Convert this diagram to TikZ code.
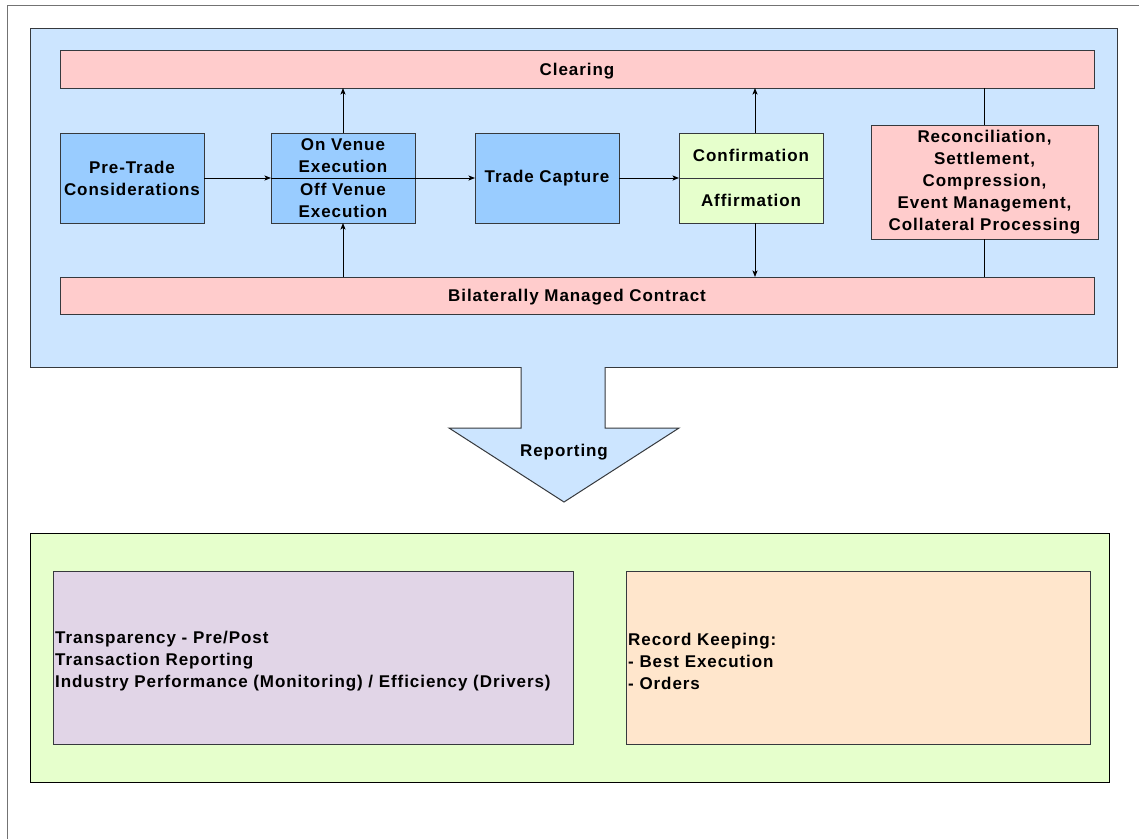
\documentclass[tikz,border=0pt]{standalone}
\usepackage{fontspec}
\setmainfont{Liberation Sans}[LetterSpace=5.5]
\usetikzlibrary{arrows.meta}

\definecolor{edge}{HTML}{36393D}
\definecolor{paleblue}{HTML}{CCE5FF}
\definecolor{midblue}{HTML}{99CCFF}
\definecolor{palepink}{HTML}{FFCCCC}
\definecolor{palegreen}{HTML}{E6FFCC}
\definecolor{lilac}{HTML}{E1D5E7}
\definecolor{peach}{HTML}{FFE6CC}

\tikzset{
  lbl/.style={font=\bfseries\fontsize{17}{22}\selectfont},
  panel/.style={draw=edge, line width=1pt, inner sep=0pt, outer sep=0pt},
  bar/.style={panel, fill=palepink, minimum width=1034pt},
  barlabel/.style={label={[lbl, yshift=-2pt]center:#1}},
  stepbox/.style={panel, fill=midblue, lbl, align=center, minimum width=144pt, minimum height=90pt},
  halfbox/.style={panel, lbl, align=center, minimum width=144pt, minimum height=45pt},
  link/.style={draw=black, line width=0.9pt},
  arr/.style={link, -{Stealth[length=6.5pt,width=5pt,inset=1.5pt]}},
}

\begin{document}
\begin{tikzpicture}[x=1pt,y=-1pt]
\useasboundingbox (0,0) rectangle (1139,839);
\fill[white] (0,0) rectangle (1139,839);

% page frame
\draw[black!55, line width=1pt] (1139,5) -- (7,5) -- (7,839);

% upper process area
\node[panel, fill=paleblue, minimum width=1087pt, minimum height=339pt] (proc) at (573.5,197.5) {};
\node[bar, minimum height=38pt, barlabel=Clearing] (clr) at (577,69) {};
\node[bar, minimum height=37pt, barlabel=Bilaterally Managed Contract] (bmc) at (577,295.5) {};

\node[stepbox] (pre) at (132,178) {Pre-Trade\\Considerations};
\node[halfbox, fill=midblue] (onv) at (343,155.5) {On Venue\\Execution};
\node[halfbox, fill=midblue] (offv) at (343,200.5) {Off Venue\\Execution};
\node[stepbox] (tc) at (547,178) {Trade Capture};
\node[halfbox, fill=palegreen] (conf) at (751,155.5) {Confirmation};
\node[halfbox, fill=palegreen] (aff) at (751,200.5) {Affirmation};
\node[panel, fill=palepink, lbl, align=center, minimum width=227pt, minimum height=114pt] (rec) at (984.5,182)
  {Reconciliation,\\Settlement,\\Compression,\\Event Management,\\Collateral Processing};

% flow connectors
\draw[arr] (pre.east) -- (pre.east -| onv.west);
\draw[arr] (onv.south east) -- (tc.west);
\draw[link] (onv.south west) -- (onv.south east);
\draw[arr] (tc.east) -- (conf.south west);
\draw[arr] (onv.north) -- (onv.north |- clr.south);
\draw[arr] (offv.south |- bmc.north) -- (offv.south);
\draw[arr] ([xshift=4pt]conf.north) -- ([xshift=4pt]conf.north |- clr.south);
\draw[arr] ([xshift=4pt]aff.south) -- ([xshift=4pt]aff.south |- bmc.north);
\draw[link] (rec.north) -- (rec.north |- clr.south);
\draw[link] (rec.south) -- (rec.south |- bmc.north);

% reporting arrow
\coordinate (s1) at (521,367);
\coordinate (s2) at (521,428);
\coordinate (h1) at (449,428);
\coordinate (tip) at (564,502);
\coordinate (h2) at (679,428);
\coordinate (s3) at (605,428);
\coordinate (s4) at (605,367);
\fill[paleblue] (s1) -- (s2) -- (h1) -- (tip) -- (h2) -- (s3) -- (s4) -- cycle;
\draw[edge, line width=1pt, line join=miter] (s1) -- (s2) -- (h1) -- (tip) -- (h2) -- (s3) -- (s4);
\node[lbl] (rep) at (564,452) {Reporting};

% reporting outputs
\node[panel, draw=black, fill=palegreen, minimum width=1079pt, minimum height=249pt] (out) at (569.5,657.5) {};
\node[panel, fill=lilac, minimum width=520pt, minimum height=173pt] (trn) at (313,657.5) {};
\node[panel, fill=peach, minimum width=464pt, minimum height=173pt] (rk) at (858,657.5) {};
\node[lbl, inner sep=0pt, align=left, anchor=west] (trntxt) at ([xshift=2pt,yshift=-3.5pt]trn.west)
  {Transparency - Pre/Post\\Transaction Reporting\\Industry Performance (Monitoring) / Efficiency (Drivers)};
\node[lbl, inner sep=0pt, align=left, anchor=west] (rktxt) at ([xshift=2pt,yshift=-3.5pt]rk.west)
  {Record Keeping:\\- Best Execution\\- Orders};
\end{tikzpicture}
\end{document}
